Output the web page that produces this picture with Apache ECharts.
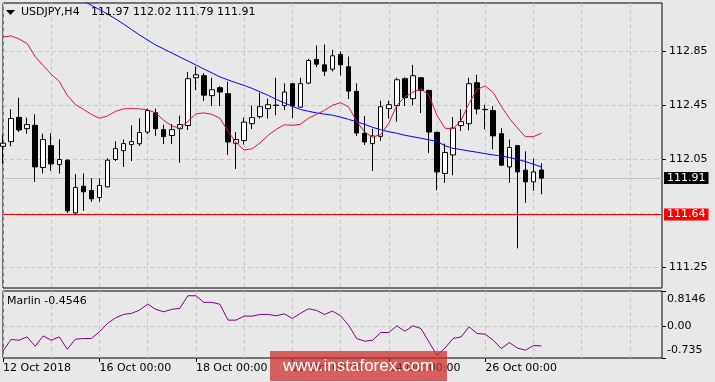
<!DOCTYPE html>
<html><head><meta charset="utf-8">
<script src="https://cdn.jsdelivr.net/npm/echarts@6/dist/echarts.min.js"></script>
<style>html,body{margin:0;padding:0;background:#e8e8e8}#c{width:715px;height:382px}</style>
</head><body><div id="c"></div><script>
const symbolName = 'USDJPY,H4';
const indicatorName = 'Marlin';
const firstLabel = '12 Oct 2018';
const tradingDays = ['12 Oct','15 Oct','16 Oct','17 Oct','18 Oct','19 Oct','22 Oct','23 Oct','24 Oct','25 Oct','26 Oct','29 Oct','30 Oct','31 Oct'];
const barHours = ['00:00','04:00','08:00','12:00','16:00','20:00'];
const slotCount = 83;

const openP = [112.146,112.181,112.361,112.277,112.302,111.989,112.151,112.011,112.043,111.652,
111.850,111.818,111.766,111.845,112.048,112.114,112.159,112.165,112.252,112.396,
112.270,112.226,112.277,112.300,112.655,112.670,112.522,112.581,112.537,112.169,
112.189,112.314,112.366,112.426,112.451,112.448,112.611,112.437,112.615,112.791,
112.751,112.719,112.828,112.737,112.554,112.243,112.166,112.220,112.426,112.448,
112.648,112.500,112.655,112.561,112.250,111.944,112.082,112.300,112.314,112.618,
112.420,112.411,112.240,111.993,112.151,111.969,111.882,111.97];
const closeP = [112.169,112.352,112.267,112.307,111.993,112.196,112.015,112.048,111.667,111.840,
111.808,111.756,111.855,112.043,112.129,112.166,112.181,112.248,112.411,112.277,
112.218,112.270,112.307,112.648,112.677,112.526,112.566,112.549,112.178,112.196,
112.326,112.359,112.440,112.455,112.450,112.549,112.445,112.611,112.783,112.756,
112.704,112.818,112.751,112.556,112.245,112.178,112.223,112.440,112.455,112.640,
112.507,112.670,112.561,112.252,111.956,112.100,112.282,112.329,112.611,112.423,
112.418,112.223,112.006,112.137,111.956,111.882,111.956,111.91];
const lowP = [112.020,112.146,112.252,112.240,111.882,111.944,111.963,111.944,111.652,111.643,
111.667,111.734,111.734,111.840,112.037,111.993,112.037,112.149,112.237,112.223,
112.163,112.163,112.023,112.267,112.563,112.482,112.445,112.445,112.082,111.978,
112.159,112.274,112.352,112.352,112.376,112.415,112.356,112.433,112.608,112.734,
112.667,112.702,112.672,112.497,112.223,112.156,111.963,112.186,112.352,112.329,
112.445,112.450,112.393,112.097,111.820,111.874,111.931,112.260,112.265,112.383,
112.272,112.124,112.000,111.874,111.388,111.726,111.815,111.79];
const highP = [112.228,112.420,112.507,112.359,112.383,112.240,112.243,112.198,112.048,111.939,
111.944,111.909,111.907,112.057,112.183,112.198,112.302,112.354,112.426,112.426,
112.307,112.311,112.374,112.697,112.737,112.689,112.655,112.593,112.626,112.252,
112.359,112.448,112.544,112.500,112.655,112.613,112.615,112.655,112.796,112.894,
112.902,112.863,112.850,112.813,112.613,112.371,112.277,112.485,112.485,112.655,
112.657,112.751,112.660,112.565,112.252,112.166,112.363,112.420,112.655,112.677,
112.455,112.445,112.280,112.196,112.155,112.109,112.055,112.02];
const maRed = [112.957,112.966,112.943,112.909,112.813,112.746,112.680,112.628,112.524,112.457,
112.420,112.383,112.354,112.372,112.406,112.424,112.426,112.424,112.417,112.394,
112.339,112.298,112.280,112.331,112.387,112.394,112.383,112.354,112.257,112.174,
112.118,112.128,112.172,112.228,112.272,112.306,112.302,112.309,112.354,112.383,
112.413,112.451,112.470,112.439,112.331,112.252,112.213,112.235,112.317,112.450,
112.511,112.548,112.572,112.524,112.376,112.280,112.276,112.339,112.465,112.569,
112.594,112.546,112.443,112.354,112.283,112.217,112.218,112.243];
const maBlue = [113.583,113.546,113.509,113.472,113.428,113.383,113.346,113.309,113.280,113.250,
113.226,113.193,113.161,113.128,113.092,113.054,113.013,112.972,112.935,112.898,
112.869,112.839,112.809,112.780,112.750,112.720,112.691,112.661,112.639,112.618,
112.598,112.576,112.550,112.524,112.494,112.469,112.443,112.420,112.406,112.394,
112.385,112.377,112.363,112.346,112.328,112.309,112.287,112.269,112.254,112.243,
112.228,112.217,112.206,112.194,112.183,112.150,112.131,112.122,112.111,112.102,
112.091,112.082,112.074,112.063,112.050,112.033,112.013,111.993];
const marlin = [-0.572,-0.307,-0.324,-0.247,-0.463,-0.224,-0.324,-0.247,-0.533,-0.300,
-0.284,-0.284,-0.131,0.064,0.194,0.273,0.297,0.373,0.513,0.390,
0.334,0.390,0.413,0.705,0.705,0.552,0.552,0.506,0.141,0.141,
0.234,0.234,0.273,0.273,0.241,0.287,0.180,0.297,0.403,0.366,
0.273,0.350,0.241,0.025,-0.284,-0.347,-0.324,-0.145,-0.145,0.009,
-0.115,0.009,-0.052,-0.363,-0.672,-0.503,-0.284,-0.247,-0.015,-0.168,
-0.184,-0.324,-0.516,-0.377,-0.503,-0.556,-0.447,-0.4546];

const priceGrid = [111.25, 111.65, 112.05, 112.45, 112.85];
const priceLabels = [111.25, 112.05, 112.45, 112.85];
const priceMin = 111.094, priceMax = 113.21;
const marlinLabels = [0.8146, 0, -0.735];
const marlinMin = -0.735, marlinMax = 0.8146;
const supportLevel = 111.64;
const watermark = 'www.instaforex.com';

const FONT = '"DejaVu Sans"';
const categories = [];
tradingDays.forEach(d => barHours.forEach(h => categories.push(d + ' ' + h)));
categories.length = slotCount;
const n = openP.length;
const candles = openP.map((o, i) => [o, closeP[i], lowP[i], highP[i]]);
const lastPrice = closeP[n - 1];
const gridCol = i => i % 6 === 0;
const labelCol = i => i % 12 === 0 && i < n;
const gridLine = {color: '#c6c6c6', type: [4, 3], width: 1};

const chart = echarts.init(document.getElementById('c'), null, {renderer: 'canvas'});
chart.setOption({
  animation: false,
  backgroundColor: '#e8e8e8',
  textStyle: {fontFamily: FONT},
  grid: [
    {left: 3, top: 3, width: 659, height: 285, show: true, borderColor: '#000', borderWidth: 1, backgroundColor: 'transparent'},
    {left: 3, top: 291, width: 659, height: 67, show: true, borderColor: '#000', borderWidth: 1, backgroundColor: 'transparent'}
  ],
  xAxis: [
    {type: 'category', gridIndex: 0, data: categories, boundaryGap: false,
     axisLine: {show: false, onZero: false}, axisTick: {show: false}, axisLabel: {show: false},
     splitLine: {show: true, interval: (i) => gridCol(i), lineStyle: gridLine}},
    {type: 'category', gridIndex: 1, data: categories, boundaryGap: false, position: 'bottom',
     axisLine: {show: false, onZero: false},
     axisTick: {show: true, interval: (i) => labelCol(i), length: 4, lineStyle: {color: '#000'}},
     axisLabel: {show: true, interval: (i) => labelCol(i), align: 'left', margin: 5, color: '#000',
       fontSize: 11, fontFamily: FONT, formatter: (v, i) => i === 0 ? firstLabel : v},
     splitLine: {show: true, interval: (i) => gridCol(i), lineStyle: gridLine}}
  ],
  yAxis: [
    {type: 'value', gridIndex: 0, position: 'right', min: priceMin, max: priceMax, scale: true,
     splitLine: {show: false}, axisLine: {show: false},
     axisTick: {show: true, customValues: priceLabels, length: 4, lineStyle: {color: '#000'}},
     axisLabel: {customValues: priceLabels, margin: 7, color: '#000', fontSize: 11, fontFamily: FONT,
       formatter: v => v.toFixed(2)}},
    {type: 'value', gridIndex: 1, position: 'right', min: marlinMin, max: marlinMax,
     splitLine: {show: false}, axisLine: {show: false},
     axisTick: {show: true, customValues: marlinLabels, length: 4, lineStyle: {color: '#000'}},
     axisLabel: {customValues: marlinLabels, margin: 5, color: '#000', fontSize: 11, fontFamily: FONT,
       formatter: v => v === marlinMax ? '{t|' + v + '}' : (v === marlinMin ? '{b|' + v + '}' : v.toFixed(2)),
       rich: {
         t: {padding: [17, 0, 0, 0], color: '#000', fontSize: 11, fontFamily: FONT},
         b: {padding: [0, 0, 15, 0], color: '#000', fontSize: 11, fontFamily: FONT}
       }}}
  ],
  series: [
    {type: 'line', name: 'grid-main', xAxisIndex: 0, yAxisIndex: 0, data: [], silent: true,
     markLine: {z: 1, silent: true, symbol: 'none', label: {show: false}, lineStyle: gridLine,
       data: priceGrid.map(v => ({yAxis: v}))}},
    {type: 'line', name: 'grid-sub', xAxisIndex: 1, yAxisIndex: 1, data: [], silent: true,
     markLine: {z: 1, silent: true, symbol: 'none', label: {show: false}, lineStyle: gridLine,
       data: [{yAxis: 0}]}},
    {type: 'candlestick', name: symbolName, xAxisIndex: 0, yAxisIndex: 0, data: candles, barWidth: 5, z: 3,
     itemStyle: {color: '#fff', color0: '#000', borderColor: '#000', borderColor0: '#000', borderWidth: 1},
     markLine: {z: 2, silent: true, symbol: 'none', animation: false,
       data: [
         {yAxis: lastPrice, lineStyle: {color: '#c0c0c0', type: 'solid', width: 1},
          label: {show: true, position: 'end', distance: 2, formatter: lastPrice.toFixed(2), color: '#fff',
            backgroundColor: '#000', padding: [1, 3, 0, 3], fontSize: 11, fontFamily: FONT}},
         {yAxis: supportLevel, lineStyle: {color: '#ff0000', type: 'solid', width: 1},
          label: {show: true, position: 'end', distance: 2, formatter: supportLevel.toFixed(2), color: '#fff',
            backgroundColor: '#ff0000', padding: [1, 3, 0, 3], fontSize: 11, fontFamily: FONT}}
       ]}},
    {type: 'line', name: 'MA slow', xAxisIndex: 0, yAxisIndex: 0, data: maBlue, symbol: 'none', z: 4,
     lineStyle: {color: '#0000ff', width: 1}},
    {type: 'line', name: 'MA fast', xAxisIndex: 0, yAxisIndex: 0, data: maRed, symbol: 'none', z: 4,
     lineStyle: {color: '#dc143c', width: 1}},
    {type: 'line', name: indicatorName, xAxisIndex: 1, yAxisIndex: 1, data: marlin, symbol: 'none', z: 4,
     lineStyle: {color: '#800080', width: 1}}
  ],
  graphic: [
    {type: 'polygon', z: 50, shape: {points: [[6, 10], [15, 10], [10.5, 15]]}, style: {fill: '#000'}},
    {type: 'text', z: 50, style: {text: symbolName, x: 21, y: 12.5, fill: '#000', font: '11px ' + FONT, verticalAlign: 'middle'}},
    {type: 'text', z: 50, style: {text: [openP[n-1], highP[n-1], lowP[n-1], closeP[n-1]].map(v => v.toFixed(2)).join(' '),
      x: 91, y: 12.5, fill: '#000', font: '11px ' + FONT, verticalAlign: 'middle'}},
    {type: 'text', z: 50, style: {text: indicatorName + ' ' + marlin[n-1].toFixed(4), x: 7, y: 301.5, fill: '#000', font: '11px ' + FONT, verticalAlign: 'middle'}},
    {type: 'rect', z: 100, shape: {x: 270, y: 351, width: 177, height: 30}, style: {fill: 'rgba(205,40,40,0.72)'}},
    {type: 'text', z: 101, style: {text: watermark, x: 358.5, y: 366.5, fill: '#fff', font: '17px "Liberation Sans"', align: 'center', verticalAlign: 'middle'}}
  ]
});
</script></body></html>
